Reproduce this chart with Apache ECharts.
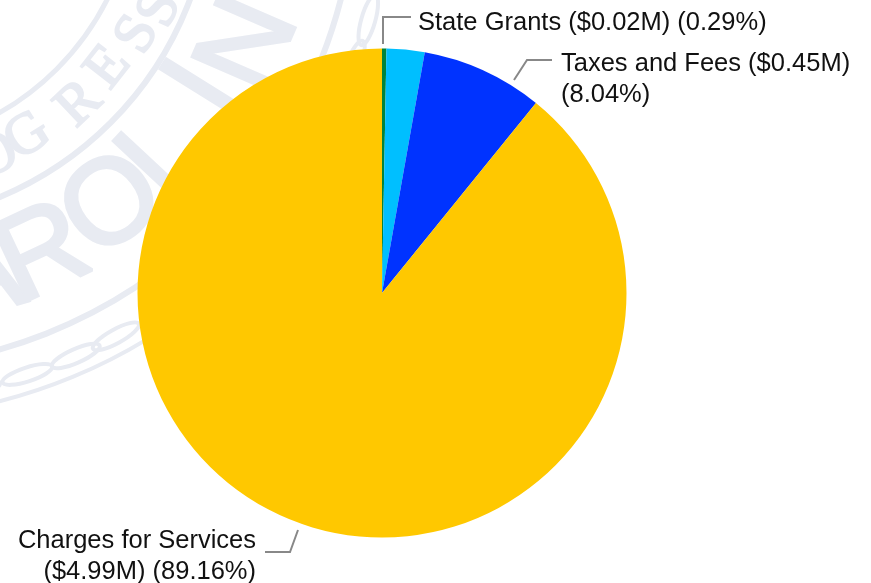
<!DOCTYPE html>
<html><head><meta charset="utf-8">
<style>html,body{margin:0;padding:0;background:#fff}#c{width:871px;height:583px}</style>
<script src="https://cdn.jsdelivr.net/npm/echarts@6/dist/echarts.min.js"></script>
</head><body><div id="c"></div>
<script>
var categories = ['State Grants', 'Other', 'Taxes and Fees', 'Charges for Services'];
var percents = [0.29, 2.51, 8.04, 89.16];
var amounts = ['$0.02M', '', '$0.45M', '$4.99M'];
var colors = ['#00843D', '#00BFFF', '#0033FF', '#FFC800'];
var labelTexts = [
  'State Grants ($0.02M) (0.29%)',
  '',
  'Taxes and Fees ($0.45M)\n(8.04%)',
  'Charges for Services\n($4.99M) (89.16%)'
];
var labelPlacement = [
  {x: 418, y: 23, align: 'left', verticalAlign: 'middle', labelLinePoints: [[383, 44], [383, 17], [411, 17]]},
  null,
  {x: 561, y: 79, align: 'left', verticalAlign: 'middle', labelLinePoints: [[514, 80], [527, 60], [552, 60]]},
  {x: 256, y: 556, align: 'right', verticalAlign: 'middle', labelLinePoints: [[298, 530], [290, 552], [265, 552]]}
];

// Pale seal watermark behind the pie
var SEAL = {cx: -134, cy: -122, ink: '#E8EBF2'};
var sealRings = [[270, 5, 0, 90], [346, 6, 0, 90], [490, 6, 0, 90], [540, 4, 50, 85]];
var sealBig = [['A', 74, 418], ['R', 64.8, 418], ['O', 53, 412], ['L', 43, 410], ['I', 32, 400], ['N', 23.5, 420]];
var sealSmall = [['O', 65, 308], ['G', 58, 305], ['R', 46.7, 311], ['E', 38, 308], ['S', 30, 314], ['S', 24, 322]];
var sealLinks = [15.8, 21, 61.4, 66.3, 72, 78];
function placed(ch, deg, r, font, thick) {
  var a = deg * Math.PI / 180;
  return {type: 'text', x: SEAL.cx + r * Math.cos(a), y: SEAL.cy + r * Math.sin(a),
    rotation: (90 - deg) * Math.PI / 180, silent: true, z: 0,
    style: {text: ch, font: font, fill: SEAL.ink, stroke: SEAL.ink, lineWidth: thick, align: 'center', verticalAlign: 'middle'}};
}
var wm = [];
sealRings.forEach(function (r) {
  wm.push({type: 'arc', silent: true, z: 0,
    shape: {cx: SEAL.cx, cy: SEAL.cy, r: r[0], startAngle: r[2] * Math.PI / 180, endAngle: r[3] * Math.PI / 180, clockwise: true},
    style: {fill: 'none', stroke: SEAL.ink, lineWidth: r[1]}});
});
sealBig.forEach(function (l) { wm.push(placed(l[0], l[1], l[2], '120px "Liberation Sans"', 3.5)); });
sealSmall.forEach(function (l) { wm.push(placed(l[0], l[1], l[2], '58px "Liberation Serif"', 2)); });
sealLinks.forEach(function (d) {
  var a = d * Math.PI / 180;
  wm.push({type: 'ellipse', silent: true, z: 0,
    x: SEAL.cx + 522 * Math.cos(a), y: SEAL.cy + 522 * Math.sin(a),
    rotation: (90 - d) * Math.PI / 180,
    shape: {cx: 0, cy: 0, rx: 26, ry: 7},
    style: {fill: 'none', stroke: SEAL.ink, lineWidth: 4}});
});

var chart = echarts.init(document.getElementById('c'), null, {renderer: 'canvas'});
chart.setOption({
  animation: false,
  backgroundColor: '#fff',
  graphic: {elements: wm},
  series: [{
    type: 'pie',
    z: 5,
    center: [382, 293],
    radius: [0, 244.5],
    startAngle: 90,
    clockwise: true,
    silent: true,
    minShowLabelAngle: 0,
    avoidLabelOverlap: false,
    data: categories.map(function (name, i) {
      return {
        name: name,
        value: percents[i],
        itemStyle: {color: colors[i]},
        label: {show: labelTexts[i] !== '', formatter: labelTexts[i]},
        labelLine: {show: labelTexts[i] !== ''}
      };
    }),
    label: {
      position: 'outside',
      fontFamily: '"Liberation Sans"',
      fontSize: 25.5,
      lineHeight: 31,
      color: '#111'
    },
    labelLine: {lineStyle: {color: '#888', width: 2}, smooth: false},
    labelLayout: function (p) { return labelPlacement[p.dataIndex] || {}; }
  }]
});
</script></body></html>
